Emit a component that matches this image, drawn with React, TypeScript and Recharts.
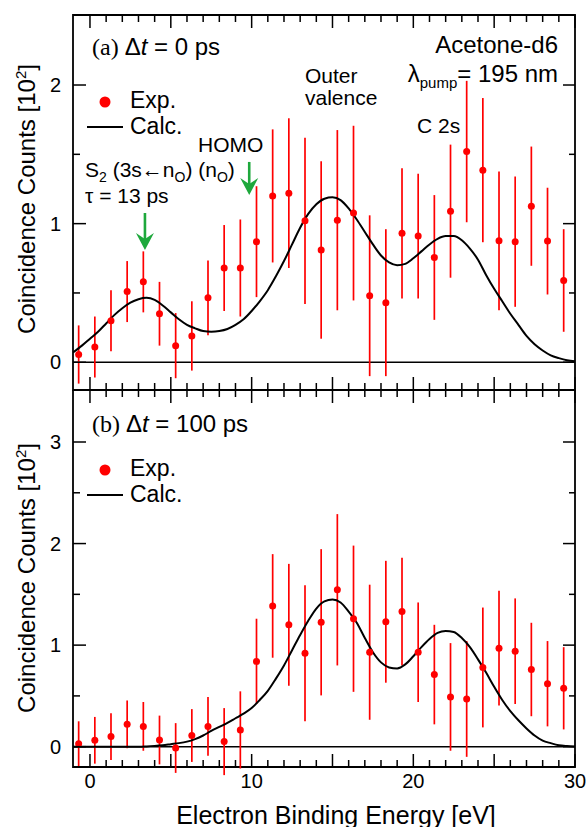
import React from 'react';
import {
  ComposedChart,
  Line,
  Scatter,
  ErrorBar,
  XAxis,
  YAxis,
  ReferenceLine,
  ReferenceArea,
  ReferenceDot,
} from 'recharts';

// ---------- data ----------
const xTicks = [0, 1, 2, 3, 4, 5, 6, 7, 8, 9, 10, 11, 12, 13, 14, 15, 16, 17, 18, 19, 20, 21, 22, 23, 24, 25, 26, 27, 28, 29, 30];
const xTickLabels = [0, 10, 20, 30];
const yTicksTop = [0, 0.5, 1, 1.5, 2];
const yTicksBottom = [0, 0.5, 1, 1.5, 2, 2.5, 3];
const yTickLabelsTop = [0, 1, 2];
const yTickLabelsBottom = [0, 1, 2, 3];

const expEnergies = [-0.7, 0.3, 1.3, 2.3, 3.3, 4.3, 5.3, 6.3, 7.3, 8.3, 9.3, 10.3, 11.3, 12.3, 13.3, 14.3, 15.3, 16.3, 17.3, 18.3, 19.3, 20.3, 21.3, 22.3, 23.3, 24.3, 25.3, 26.3, 27.3, 28.3, 29.3];
const expTopCounts = [0.056, 0.11, 0.3, 0.51, 0.58, 0.35, 0.12, 0.19, 0.465, 0.68, 0.68, 0.87, 1.2, 1.22, 1.02, 0.81, 1.025, 1.076, 0.48, 0.43, 0.93, 0.91, 0.756, 1.09, 1.52, 1.386, 0.876, 0.87, 1.126, 0.874, 0.59];
const expTopErrors = [0.21, 0.22, 0.22, 0.22, 0.22, 0.23, 0.235, 0.25, 0.27, 0.31, 0.35, 0.4, 0.48, 0.54, 0.6, 0.64, 0.65, 0.63, 0.58, 0.53, 0.47, 0.45, 0.45, 0.48, 0.51, 0.52, 0.5, 0.47, 0.43, 0.385, 0.37];
const expBottomCounts = [0.03, 0.063, 0.1, 0.22, 0.2, 0.066, -0.013, 0.11, 0.2, 0.05, 0.165, 0.84, 1.386, 1.2, 0.92, 1.225, 1.545, 1.26, 0.93, 1.23, 1.33, 0.93, 0.71, 0.49, 0.47, 0.78, 0.97, 0.94, 0.76, 0.62, 0.575];
const expBottomErrors = [0.22, 0.23, 0.23, 0.235, 0.24, 0.24, 0.245, 0.26, 0.29, 0.33, 0.38, 0.42, 0.51, 0.6, 0.67, 0.72, 0.745, 0.72, 0.665, 0.6, 0.53, 0.49, 0.49, 0.53, 0.57, 0.59, 0.565, 0.52, 0.46, 0.42, 0.405];

const calcEnergies = [-1.05, -0.5, 0, 0.5, 1, 1.5, 2, 2.5, 3, 3.5, 4, 4.5, 5, 5.5, 6, 6.5, 7, 7.5, 8, 8.5, 9, 9.5, 10, 10.5, 11, 11.5, 12, 12.5, 13, 13.5, 14, 14.5, 15, 15.5, 16, 16.5, 17, 17.5, 18, 18.5, 19, 19.5, 20, 20.5, 21, 21.5, 22, 22.5, 23, 23.5, 24, 24.5, 25, 25.5, 26, 26.5, 27, 27.5, 28, 28.5, 29, 29.5, 30];
const calcTopCounts = [0.07, 0.12, 0.17, 0.22, 0.28, 0.34, 0.39, 0.43, 0.455, 0.465, 0.45, 0.41, 0.36, 0.31, 0.27, 0.245, 0.225, 0.22, 0.225, 0.24, 0.27, 0.31, 0.37, 0.44, 0.52, 0.62, 0.73, 0.85, 0.97, 1.07, 1.14, 1.18, 1.19, 1.17, 1.11, 1.03, 0.94, 0.85, 0.77, 0.72, 0.7, 0.71, 0.75, 0.8, 0.85, 0.89, 0.91, 0.91, 0.88, 0.82, 0.74, 0.63, 0.53, 0.44, 0.35, 0.27, 0.19, 0.13, 0.085, 0.05, 0.03, 0.015, 0.008];
const calcBottomCounts = [0, 0, 0, 0, 0, 0, 0, 0, 0, 0.003, 0.008, 0.015, 0.025, 0.035, 0.05, 0.075, 0.11, 0.155, 0.195, 0.235, 0.28, 0.325, 0.38, 0.46, 0.55, 0.67, 0.8, 0.95, 1.1, 1.24, 1.36, 1.43, 1.45, 1.42, 1.33, 1.22, 1.07, 0.93, 0.83, 0.78, 0.77, 0.81, 0.89, 0.98, 1.06, 1.12, 1.14, 1.13, 1.07, 0.98, 0.86, 0.73, 0.59, 0.46, 0.35, 0.26, 0.18, 0.11, 0.06, 0.035, 0.015, 0.007, 0.003];

// arrows (eV, counts at tip)
const arrowS2 = { x: 3.4, y: 0.81 };
const arrowHomo = { x: 9.85, y: 1.207 };

// ---------- derived tables ----------
const expTop = expEnergies.map((x, i) => ({ x, y: expTopCounts[i], err: expTopErrors[i] }));
const expBottom = expEnergies.map((x, i) => ({ x, y: expBottomCounts[i], err: expBottomErrors[i] }));
const calcTop = calcEnergies.map((x, i) => ({ x, y: calcTopCounts[i] }));
const calcBottom = calcEnergies.map((x, i) => ({ x, y: calcBottomCounts[i] }));

// ---------- styling ----------
const SANS = '"Liberation Sans", Arial, Helvetica, sans-serif';
const SERIF = '"Liberation Serif", "Times New Roman", serif';
const RED = '#ff0000';
const GREEN = '#1ea83c';
const X_DOMAIN: [number, number] = [-1.05, 30];
const TOP_DOMAIN: [number, number] = [-0.2, 2.505];
const BOTTOM_DOMAIN: [number, number] = [-0.2, 3.512];
const PLOT_W = 502;
const TOP_H = 375;
const BOTTOM_H = 377;

const makeXTick = (plotH: number, showLabels: boolean) => (props: any) => {
  const { x, y, payload } = props;
  const v = payload.value as number;
  const len = v % 5 === 0 ? 13 : 7;
  return (
    <g>
      <line x1={x} y1={y} x2={x} y2={y - len} stroke="#000" strokeWidth={1.5} />
      <line x1={x} y1={y - plotH} x2={x} y2={y - plotH + len} stroke="#000" strokeWidth={1.5} />
      {showLabels && xTickLabels.includes(v) && (
        <text x={x} y={y + 21} textAnchor="middle" fontSize={20} fontFamily={SANS} fill="#000">
          {v}
        </text>
      )}
    </g>
  );
};

const makeYTick = (labels: number[]) => (props: any) => {
  const { x, y, payload } = props;
  const v = payload.value as number;
  const major = labels.includes(v);
  return (
    <g>
      <line x1={x} y1={y} x2={x + (major ? 13 : 7)} y2={y} stroke="#000" strokeWidth={1.5} />
      <line x1={x + PLOT_W} y1={y} x2={x + PLOT_W - (major ? 12 : 6)} y2={y} stroke="#000" strokeWidth={1.5} />
      {major && (
        <text x={x - 12} y={y} dy="0.36em" textAnchor="end" fontSize={20} fontFamily={SANS} fill="#000">
          {v}
        </text>
      )}
    </g>
  );
};

const dotShape = (p: any) => <circle cx={p.cx} cy={p.cy} r={3.5} fill={RED} />;

const arrowShape = (len: number) => (p: any) => {
  const { cx, cy } = p;
  return (
    <g>
      <line x1={cx} y1={cy - len} x2={cx} y2={cy - 10} stroke={GREEN} strokeWidth={2.6} />
      <polygon
        points={`${cx},${cy} ${cx - 9},${cy - 17} ${cx},${cy - 11} ${cx + 9},${cy - 17}`}
        fill={GREEN}
      />
    </g>
  );
};

function Panel(props: {
  exp: { x: number; y: number; err: number }[];
  calc: { x: number; y: number }[];
  domain: [number, number];
  yTicks: number[];
  yLabels: number[];
  plotH: number;
  height: number;
  xAxisHeight: number;
  showXLabels: boolean;
  marginTop: number;
  children?: React.ReactNode;
}) {
  return (
    <ComposedChart
      width={588}
      height={props.height}
      margin={{ top: props.marginTop, right: 13, bottom: 0, left: 72 }}
    >
      <XAxis
        type="number"
        dataKey="x"
        domain={X_DOMAIN}
        allowDataOverflow
        ticks={xTicks}
        interval={0}
        height={props.xAxisHeight}
        axisLine={false}
        tickLine={false}
        tickSize={0}
        tickMargin={0}
        tick={makeXTick(props.plotH, props.showXLabels)}
      />
      <YAxis
        type="number"
        dataKey="y"
        domain={props.domain}
        allowDataOverflow
        ticks={props.yTicks}
        interval={0}
        width={1}
        axisLine={false}
        tickLine={false}
        tickSize={0}
        tickMargin={0}
        tick={makeYTick(props.yLabels)}
      />
      <ReferenceLine y={0} stroke="#000" strokeWidth={1.6} />
      <Scatter data={props.exp} dataKey="y" shape={dotShape} isAnimationActive={false}>
        <ErrorBar dataKey="err" direction="y" width={0} stroke={RED} strokeWidth={1.7} isAnimationActive={false} />
      </Scatter>
      <Line
        data={props.calc}
        dataKey="y"
        type="monotone"
        dot={false}
        activeDot={false}
        stroke="#000"
        strokeWidth={2}
        isAnimationActive={false}
      />
      {props.children}
      <ReferenceArea
        x1={X_DOMAIN[0]}
        x2={X_DOMAIN[1]}
        y1={props.domain[0]}
        y2={props.domain[1]}
        fill="none"
        fillOpacity={0}
        stroke="#000"
        strokeWidth={1.8}
      />
    </ComposedChart>
  );
}

function LegendBlock({ top }: { top: number }) {
  return (
    <g>
      <circle cx={105} cy={top} r={5.5} fill={RED} />
      <text x={130} y={top + 5.5} fontSize={23} fontFamily={SANS}>Exp.</text>
      <line x1={87} y1={top + 25} x2={123} y2={top + 25} stroke="#000" strokeWidth={2} />
      <text x={130} y={top + 32} fontSize={23} fontFamily={SANS}>Calc.</text>
    </g>
  );
}

function YLabel({ cy }: { cy: number }) {
  return (
    <text
      x={35}
      y={cy}
      transform={`rotate(-90, 35, ${cy})`}
      textAnchor="middle"
      fontSize={24}
      fontFamily={SANS}
    >
      Coincidence Counts [10
      <tspan dy={-9} fontSize={15}>2</tspan>
      <tspan dy={9}>]</tspan>
    </text>
  );
}

export default function App() {
  return (
    <div style={{ position: 'absolute', left: 0, top: 0, width: 588, height: 827, background: '#fff', overflow: 'hidden' }}>
      <div style={{ position: 'absolute', left: 0, top: 0 }}>
        <Panel
          exp={expTop}
          calc={calcTop}
          domain={TOP_DOMAIN}
          yTicks={yTicksTop}
          yLabels={yTickLabelsTop}
          plotH={TOP_H}
          height={391}
          xAxisHeight={1}
          showXLabels={false}
          marginTop={15}
        >
          <ReferenceDot x={arrowS2.x} y={arrowS2.y} r={0} shape={arrowShape(37)} />
          <ReferenceDot x={arrowHomo.x} y={arrowHomo.y} r={0} shape={arrowShape(33)} />
        </Panel>
      </div>
      <div style={{ position: 'absolute', left: 0, top: 390 }}>
        <Panel
          exp={expBottom}
          calc={calcBottom}
          domain={BOTTOM_DOMAIN}
          yTicks={yTicksBottom}
          yLabels={yTickLabelsBottom}
          plotH={BOTTOM_H}
          height={437}
          xAxisHeight={60}
          showXLabels={true}
          marginTop={0}
        />
      </div>
      <svg
        width={588}
        height={827}
        style={{ position: 'absolute', left: 0, top: 0, pointerEvents: 'none' }}
      >
        <g fill="#000">
          {/* panel (a) */}
          <text x={92} y={55} fontSize={24} fontFamily={SANS}>
            <tspan fontFamily={SERIF}>(a) </tspan>Δ<tspan fontStyle="italic">t</tspan> = 0 ps
          </text>
          <text x={558} y={53} fontSize={24} fontFamily={SANS} textAnchor="end">Acetone-d6</text>
          <text x={558} y={82} fontSize={24} fontFamily={SANS} textAnchor="end">
            λ<tspan dy={6} fontSize={15}>pump</tspan><tspan dy={-6}>= 195 nm</tspan>
          </text>
          <text x={305} y={83} fontSize={21} fontFamily={SANS}>Outer</text>
          <text x={305} y={105} fontSize={21} fontFamily={SANS}>valence</text>
          <text x={417} y={133} fontSize={21} fontFamily={SANS}>C 2s</text>
          <text x={198} y={152} fontSize={21} fontFamily={SANS}>HOMO</text>
          <text x={85} y={177} fontSize={21} fontFamily={SANS}>
            S<tspan dy={5} fontSize={14}>2</tspan>
            <tspan dy={-5}> (3s←n</tspan>
            <tspan dy={5} fontSize={14}>O</tspan>
            <tspan dy={-5}>) (n</tspan>
            <tspan dy={5} fontSize={14}>O</tspan>
            <tspan dy={-5}>)</tspan>
          </text>
          <text x={85} y={203} fontSize={21} fontFamily={SANS}>τ = 13 ps</text>
          <LegendBlock top={102} />
          {/* panel (b) */}
          <text x={92} y={432} fontSize={24} fontFamily={SANS}>
            <tspan fontFamily={SERIF}>(b) </tspan>Δ<tspan fontStyle="italic">t</tspan> = 100 ps
          </text>
          <LegendBlock top={470} />
          <YLabel cy={199} />
          <YLabel cy={578} />
          <text x={336} y={824} fontSize={25} fontFamily={SANS} textAnchor="middle">
            Electron Binding Energy [eV]
          </text>
        </g>
      </svg>
    </div>
  );
}
